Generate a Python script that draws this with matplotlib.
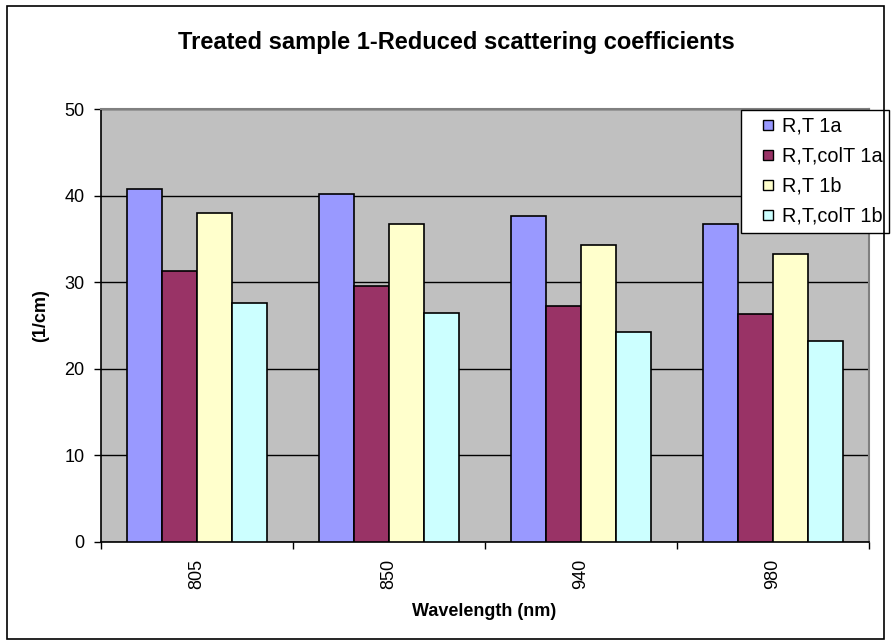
import matplotlib
matplotlib.use("Agg")
import matplotlib.pyplot as plt
import numpy as np
from matplotlib.patches import Rectangle
from matplotlib.lines import Line2D

plt.rcParams['font.family'] = ['Liberation Sans', 'DejaVu Sans']

categories = ["805", "850", "940", "980"]
series_names = ["R,T 1a", "R,T,colT 1a", "R,T 1b", "R,T,colT 1b"]
rt_1a = [40.8, 40.2, 37.7, 36.7]
rt_colt_1a = [31.3, 29.6, 27.2, 26.3]
rt_1b = [38.0, 36.7, 34.3, 33.3]
rt_colt_1b = [27.6, 26.5, 24.2, 23.2]
colors = ["#9999FF", "#993366", "#FFFFCC", "#CCFFFF"]

series = [rt_1a, rt_colt_1a, rt_1b, rt_colt_1b]

W, H = 891, 644
fig = plt.figure(figsize=(W / 100, H / 100), dpi=100)
ax = fig.add_axes([101 / W, 102 / H, 768 / W, 433 / H])
ax.set_facecolor("#C0C0C0")

x = np.arange(len(categories))
bw = 1 / 5.5
for i, (vals, name, c) in enumerate(zip(series, series_names, colors)):
    ax.bar(x + (i - 1.5) * bw, vals, width=bw, color=c, edgecolor="black",
           linewidth=1.2, label=name, zorder=3)

ax.set_xlim(-0.5, len(categories) - 0.5)
ax.set_ylim(0, 50)
ax.set_yticks(range(0, 51, 10))
ax.yaxis.grid(True, color="black", linewidth=1, zorder=1)
ax.set_axisbelow(True)

ax.set_xticks(x)
ax.set_xticklabels(categories, rotation=90, fontsize=13)
ax.set_xticks(np.arange(-0.5, len(categories), 1), minor=True)
ax.tick_params(axis='x', which='major', length=0, pad=12)
ax.tick_params(axis='x', which='minor', length=5, width=1, direction='out')
ax.tick_params(axis='y', length=5, width=1, direction='out', labelsize=13, pad=7)

for s in ["top", "right"]:
    ax.spines[s].set_color("#808080")
    ax.spines[s].set_linewidth(1.5)
for s in ["left", "bottom"]:
    ax.spines[s].set_color("black")
    ax.spines[s].set_linewidth(1.2)

fig.text(484 / W, 1 - 611 / H, "Wavelength (nm)", ha="center", va="center",
         fontsize=13, fontweight="bold")
fig.text(41 / W, 1 - 316 / H, "(1/cm)", ha="center", va="center",
         fontsize=13, fontweight="bold", rotation=90)

fig.text(456 / W, 1 - 42 / H, "Treated sample 1-Reduced scattering coefficients",
         ha="center", va="center", fontsize=17, fontweight="bold")

handles = [Line2D([], [], linestyle="none", marker="s", markersize=7.2,
                  markerfacecolor=c, markeredgecolor="black", markeredgewidth=1)
           for c in colors]
leg = ax.legend(handles, series_names, loc="upper left",
                bbox_to_anchor=(741 / W, 1 - 110 / H),
                bbox_transform=fig.transFigure, frameon=True, fancybox=False,
                edgecolor="black", framealpha=1, fontsize=14.3, handlelength=2.0,
                handletextpad=-0.3, borderpad=0.35, labelspacing=0.55,
                borderaxespad=0)
leg.get_frame().set_linewidth(1)
leg.set_zorder(10)

fig.patches.append(Rectangle((7 / W, 5 / H), 877 / W, 633 / H, transform=fig.transFigure,
                             fill=False, edgecolor="black", linewidth=1.2))

fig.savefig("out.png", dpi=100, facecolor="white")
